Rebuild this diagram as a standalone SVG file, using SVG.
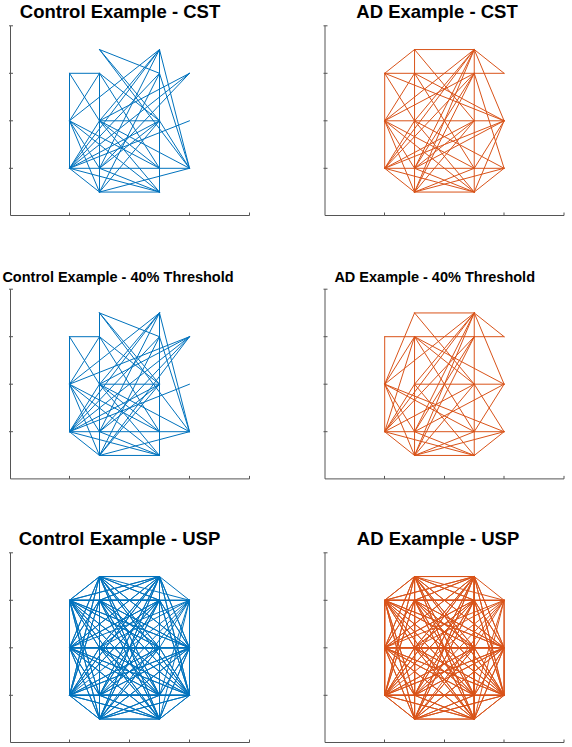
<svg xmlns="http://www.w3.org/2000/svg" xmlns:xlink="http://www.w3.org/1999/xlink" width="572" height="747" viewBox="0 0 572 747">
<style>
.t1{font-family:"Liberation Sans",Arial,sans-serif;font-weight:bold;font-size:18.5px;fill:#000;text-anchor:middle}
.t2{font-family:"Liberation Sans",Arial,sans-serif;font-weight:bold;font-size:14.5px;fill:#000;text-anchor:middle}
.ax{fill:none;stroke:#555;stroke-width:1}
.e{fill:none;stroke-width:1;vector-effect:non-scaling-stroke;stroke-linejoin:round;stroke-linecap:round}
.blue{stroke:#0072BD}
.orange{stroke:#D95319}
</style>
<defs>
<path id="axL" d="M10.5 25.8V215.5H249.5M9 25.8H13M9 73.3H13M9 120.8H13M9 168.3H13M69.5 215.5V212.5M129.5 215.5V212.5M189.5 215.5V212.5M249.5 215.5V212.5"/>
<path id="axR" d="M325 25.8V215.5H564M323.5 25.8H327.5M323.5 73.3H327.5M323.5 120.8H327.5M323.5 168.3H327.5M384.5 215.5V212.5M444.5 215.5V212.5M504 215.5V212.5M564 215.5V212.5"/>
</defs>

<g id="panel-control-cst">
<text class="t1" x="120" y="17.5">Control Example - CST</text>
<use xlink:href="#axL" class="ax"/>
<g id="edges-control-cst" transform="translate(9.5,215.8) scale(30,-23.75)">
<path class="e blue" d="M2 6L3 6M2 6L2 2M3 6L3 1M5 7L5 1M3 4L5 4M2 2L6 2M3 1L5 1M2 6L3 4M3 6L2 4M2 4L3 2M3 4L2 2M3 7L5 6M3 7L6 2M3 7L5 4M5 7L2 4M5 7L3 4M5 7L3 2M5 7L2 2M5 7L6 2M6 6L3 4M6 6L2 2M6 6L3 2M6 4L2 2M3 6L5 2M3 6L5 4M5 6L2 2M3 4L5 1M3 4L5 2M3 2L5 4M2 4L5 2M2 4L5 1M2 2L5 1M2 2L5 4M3 1L6 2M3 1L5 4M3 1L5 6M3 4L6 2M3 2L5 1M2 2L3 1M2 4L3 1M5 4L6 2M5 6L6 2"/>
</g>
</g>

<g id="panel-ad-cst">
<text class="t1" x="437" y="17.5">AD Example - CST</text>
<use xlink:href="#axR" class="ax"/>
<g id="edges-ad-cst" transform="translate(325,215.8) scale(29.85,-23.75)">
<path class="e orange" d="M3 7L5 7M3 7L2 6M5 7L6 6M2 6L6 6M2 4L6 4M2 2L6 2M3 1L5 1M2 2L3 1M5 1L6 2M2 6L2 2M3 7L3 1M5 7L5 1M3 7L5 4M5 7L2 2M5 7L3 2M5 7L3 1M5 7L3 4M5 7L2 4M5 7L6 4M2 6L3 4M2 6L6 4M3 6L6 4M3 6L2 4M3 6L5 2M5 6L2 4M5 6L2 2M5 6L3 2M5 6L3 1M5 6L6 2M2 4L5 2M2 4L5 1M2 4L3 2M2 4L3 1M2 2L5 4M2 2L3 4M2 2L5 1M2 2L6 4M3 4L5 1M3 4L6 2M3 2L6 4M3 2L5 1M3 2L5 4M3 1L5 4M3 1L6 2M3 1L5 2M6 4L5 2M6 4L5 1"/>
</g>
</g>

<g id="panel-control-40">
<text class="t2" x="118" y="282.3">Control Example - 40% Threshold</text>
<use xlink:href="#axL" class="ax" transform="translate(0,263.4)"/>
<g id="edges-control-40" transform="translate(9.5,479.2) scale(30,-23.75)">
<path class="e blue" d="M2 6L3 6M2 6L2 2M3 7L3 1M5 7L5 1M3 4L5 4M2 2L6 2M3 1L5 1M2 6L3 4M3 6L2 4M2 4L3 2M3 4L2 2M3 7L5 6M3 7L6 2M3 7L5 4M5 7L2 4M5 7L3 4M5 7L3 2M5 7L2 2M5 7L6 2M6 6L3 4M6 6L2 2M6 6L3 2M6 6L2 4M6 6L3 1M6 4L2 2M3 6L5 2M3 6L5 4M5 6L2 2M3 4L5 1M3 4L5 2M3 2L5 4M2 4L5 2M2 4L5 1M2 2L5 1M2 2L5 4M3 1L6 2M3 1L5 4M3 1L5 6M3 4L6 2M3 2L5 1M2 2L3 1M2 4L3 1M5 6L6 2"/>
</g>
</g>

<g id="panel-ad-40">
<text class="t2" x="434.7" y="282.3">AD Example - 40% Threshold</text>
<use xlink:href="#axR" class="ax" transform="translate(0,263.4)"/>
<g id="edges-ad-40" transform="translate(325,479.2) scale(29.85,-23.75)">
<path class="e orange" d="M3 7L5 7M5 7L6 6M3 7L2 4M2 6L6 6M2 6L2 2M3 6L3 1M5 7L5 1M3 4L6 4M2 2L6 2M3 1L5 1M2 2L3 1M5 1L6 2M3 7L5 4M5 7L2 4M5 7L2 2M5 7L3 2M5 7L3 1M5 7L3 4M5 7L6 4M3 6L5 4M3 6L6 4M3 6L2 4M3 6L5 2M5 6L3 2M5 6L3 1M5 6L2 2M2 4L3 2M2 4L3 1M2 4L5 2M2 4L6 2M2 2L3 4M2 2L3 6M2 2L5 4M2 2L5 1M3 2L6 4M3 2L5 1M3 1L6 2M3 1L5 2M3 1L5 4M3 4L5 1M5 4L6 2M6 4L5 2"/>
</g>
</g>

<g id="panel-control-usp">
<text class="t1" x="119.5" y="545">Control Example - USP</text>
<use xlink:href="#axL" class="ax" transform="translate(0,527)"/>
<g id="edges-control-usp" transform="translate(9.5,742.8) scale(30,-23.75)">
<path class="e blue" d="M2 2L2 4 2 2 2 6 2 2 3 1 2 2 3 2 2 2 3 4 2 2 3 6 2 2 3 7 2 2 5 1 2 2 5 2 2 2 5 4 2 2 5 6 2 2 5 7 2 2 6 2 2 2 6 4 2 2 6 6M2 4L2 6 2 4 3 1 2 4 3 2 2 4 3 4 2 4 3 6 2 4 3 7 2 4 5 1 2 4 5 2 2 4 5 4 2 4 5 6 2 4 5 7 2 4 6 2 2 4 6 4 2 4 6 6M2 6L3 1 2 6 3 2 2 6 3 4 2 6 3 6 2 6 3 7 2 6 5 1 2 6 5 2 2 6 5 4 2 6 5 6 2 6 5 7 2 6 6 2 2 6 6 4 2 6 6 6M3 1L3 2 3 1 3 4 3 1 3 6 3 1 3 7 3 1 5 1 3 1 5 2 3 1 5 4 3 1 5 6 3 1 5 7 3 1 6 2 3 1 6 4 3 1 6 6M3 2L3 4 3 2 3 6 3 2 3 7 3 2 5 1 3 2 5 2 3 2 5 4 3 2 5 6 3 2 5 7 3 2 6 2 3 2 6 4 3 2 6 6M3 4L3 6 3 4 3 7 3 4 5 1 3 4 5 2 3 4 5 4 3 4 5 6 3 4 5 7 3 4 6 2 3 4 6 4 3 4 6 6M3 6L3 7 3 6 5 1 3 6 5 2 3 6 5 4 3 6 5 6 3 6 5 7 3 6 6 2 3 6 6 4 3 6 6 6M3 7L5 1 3 7 5 2 3 7 5 4 3 7 5 6 3 7 5 7 3 7 6 2 3 7 6 4 3 7 6 6M5 1L5 2 5 1 5 4 5 1 5 6 5 1 5 7 5 1 6 2 5 1 6 4 5 1 6 6M5 2L5 4 5 2 5 6 5 2 5 7 5 2 6 2 5 2 6 4 5 2 6 6M5 4L5 6 5 4 5 7 5 4 6 2 5 4 6 4 5 4 6 6M5 6L5 7 5 6 6 2 5 6 6 4 5 6 6 6M5 7L6 2 5 7 6 4 5 7 6 6M6 2L6 4 6 2 6 6M6 4L6 6"/>
</g>
</g>

<g id="panel-ad-usp">
<text class="t1" x="438" y="545">AD Example - USP</text>
<use xlink:href="#axR" class="ax" transform="translate(0,527)"/>
<g id="edges-ad-usp" transform="translate(325,742.8) scale(29.85,-23.75)">
<path class="e orange" d="M2 2L2 4 2 2 2 6 2 2 3 1 2 2 3 2 2 2 3 4 2 2 3 6 2 2 3 7 2 2 5 1 2 2 5 2 2 2 5 4 2 2 5 6 2 2 5 7 2 2 6 2 2 2 6 4 2 2 6 6M2 4L2 6 2 4 3 1 2 4 3 2 2 4 3 4 2 4 3 6 2 4 3 7 2 4 5 1 2 4 5 2 2 4 5 4 2 4 5 6 2 4 5 7 2 4 6 2 2 4 6 4 2 4 6 6M2 6L3 1 2 6 3 2 2 6 3 4 2 6 3 6 2 6 3 7 2 6 5 1 2 6 5 2 2 6 5 4 2 6 5 6 2 6 5 7 2 6 6 2 2 6 6 4 2 6 6 6M3 1L3 2 3 1 3 4 3 1 3 6 3 1 3 7 3 1 5 1 3 1 5 2 3 1 5 4 3 1 5 6 3 1 5 7 3 1 6 2 3 1 6 4 3 1 6 6M3 2L3 4 3 2 3 6 3 2 3 7 3 2 5 1 3 2 5 2 3 2 5 4 3 2 5 6 3 2 5 7 3 2 6 2 3 2 6 4 3 2 6 6M3 4L3 6 3 4 3 7 3 4 5 1 3 4 5 2 3 4 5 4 3 4 5 6 3 4 5 7 3 4 6 2 3 4 6 4 3 4 6 6M3 6L3 7 3 6 5 1 3 6 5 2 3 6 5 4 3 6 5 6 3 6 5 7 3 6 6 2 3 6 6 4 3 6 6 6M3 7L5 1 3 7 5 2 3 7 5 4 3 7 5 6 3 7 5 7 3 7 6 2 3 7 6 4 3 7 6 6M5 1L5 2 5 1 5 4 5 1 5 6 5 1 5 7 5 1 6 2 5 1 6 4 5 1 6 6M5 2L5 4 5 2 5 6 5 2 5 7 5 2 6 2 5 2 6 4 5 2 6 6M5 4L5 6 5 4 5 7 5 4 6 2 5 4 6 4 5 4 6 6M5 6L5 7 5 6 6 2 5 6 6 4 5 6 6 6M5 7L6 2 5 7 6 4 5 7 6 6M6 2L6 4 6 2 6 6M6 4L6 6"/>
</g>
</g>
</svg>
